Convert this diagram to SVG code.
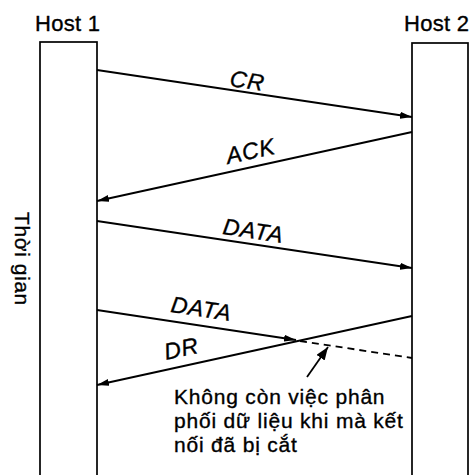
<svg xmlns="http://www.w3.org/2000/svg" width="474" height="475" viewBox="0 0 474 475">
<style>
text{font-family:"Liberation Sans",Arial,sans-serif;fill:#000;stroke:#000;stroke-width:0.35px}
.host{font-size:22px;letter-spacing:0.3px}
.lbl{font-size:23px;font-style:italic;letter-spacing:0.8px}
.box{fill:#fff;stroke:#000;stroke-width:1.7}
.msg{stroke:#000;stroke-width:1.8;fill:none}
.dash{stroke-dasharray:7,5}
.note{font-size:21px;letter-spacing:0.8px}
.time{font-size:21px;letter-spacing:0.6px}
</style>
<defs>
<marker id="ah" viewBox="0 0 12 7" refX="12" refY="3.5" markerWidth="12" markerHeight="7" markerUnits="userSpaceOnUse" orient="auto">
<path d="M0,0 L12,3.5 L0,7 Z" fill="#000"/>
</marker>
<marker id="ah2" viewBox="0 0 13 10" refX="13" refY="5" markerWidth="13" markerHeight="10" markerUnits="userSpaceOnUse" orient="auto">
<path d="M0,0 L13,5 L0,10 Z" fill="#000"/>
</marker>
</defs>
<rect width="474" height="475" fill="#fff"/>
<g id="host1">
<rect class="box" x="40" y="42" width="57" height="440"/>
<text class="host" x="35" y="31">Host 1</text>
</g>
<g id="host2">
<rect class="box" x="412" y="43" width="56" height="440"/>
<text class="host" x="404" y="31">Host 2</text>
</g>
<g id="time">
<text class="time" transform="translate(15,212) rotate(90)">Thời gian</text>
</g>
<g id="connectors">
<line class="msg" x1="97" y1="70" x2="412" y2="117" marker-end="url(#ah)"/>
<line class="msg" x1="412" y1="132" x2="97" y2="201" marker-end="url(#ah)"/>
<line class="msg" x1="97" y1="221" x2="412" y2="268" marker-end="url(#ah)"/>
<line class="msg" x1="97" y1="310" x2="296" y2="340" marker-end="url(#ah)"/>
<line class="msg dash" x1="300" y1="341" x2="412" y2="358"/>
<line class="msg" x1="412" y1="316" x2="97" y2="385" marker-end="url(#ah)"/>
<line class="msg" x1="307" y1="377" x2="328" y2="347" marker-end="url(#ah2)"/>
</g>
<g id="labels">
<text class="lbl" transform="translate(229,86) rotate(8.5)">CR</text>
<text class="lbl" transform="translate(228,164) rotate(-12.2)">ACK</text>
<text class="lbl" transform="translate(222,234) rotate(8.5)">DATA</text>
<text class="lbl" transform="translate(170,312) rotate(8.5)">DATA</text>
<text class="lbl" transform="translate(166,360) rotate(-12.2)">DR</text>
</g>
<g id="note">
<text class="note" x="174" y="404">Không còn việc phân</text>
<text class="note" x="174" y="428">phối dữ liệu khi mà kết</text>
<text class="note" x="174" y="452">nối đã bị cắt</text>
</g>
</svg>
